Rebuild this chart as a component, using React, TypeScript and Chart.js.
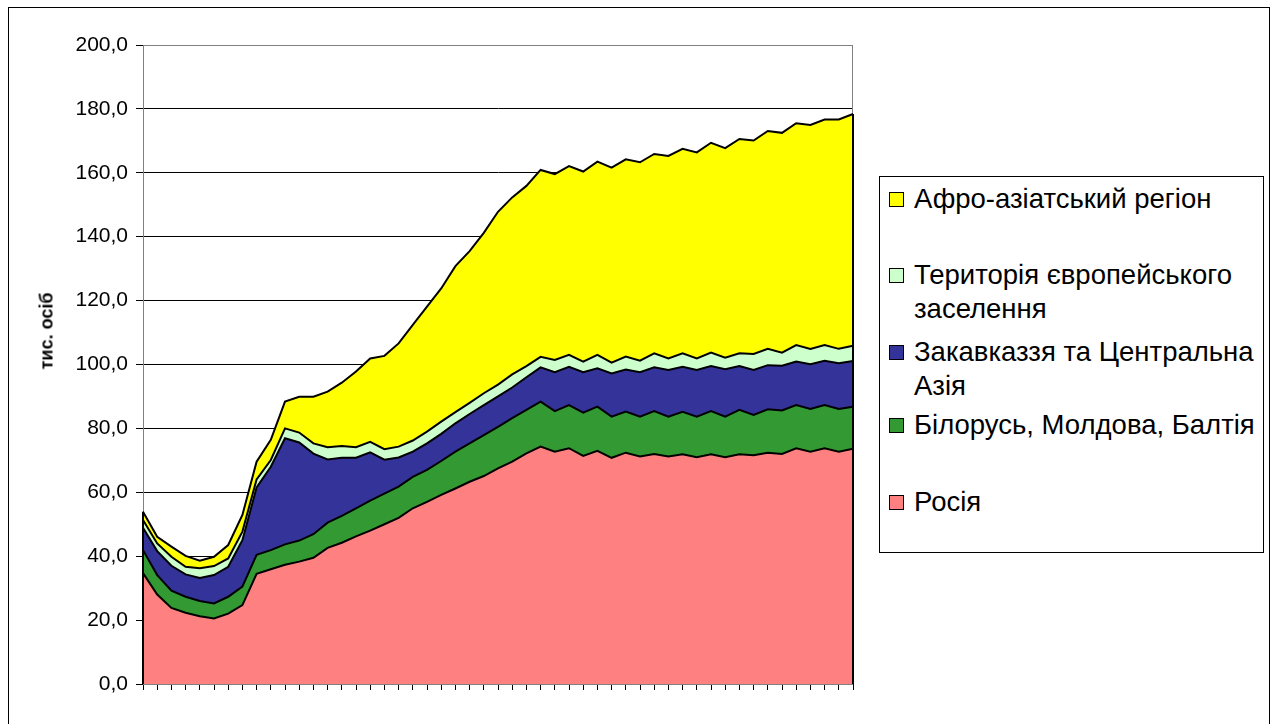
import React, { useEffect, useRef } from "react";
import { Chart, registerables } from "chart.js";

Chart.register(...registerables);

// 51 unlabeled categories (the x axis shows tick marks only)
const categories: string[] = new Array(51).fill("");

const yTickValues = [0, 20, 40, 60, 80, 100, 120, 140, 160, 180, 200];

const russia = [34.7, 28.0, 23.8, 22.3, 21.2, 20.5, 22.0, 24.7, 34.5, 35.9, 37.3, 38.3, 39.5, 42.6, 44.2, 46.2, 48.0, 50.0, 52.0, 55.0, 57.0, 59.2, 61.2, 63.3, 65.1, 67.5, 69.6, 72.2, 74.3, 72.7, 73.8, 71.4, 73.0, 70.8, 72.4, 71.2, 72.0, 71.2, 71.9, 71.0, 71.9, 71.0, 71.9, 71.6, 72.4, 72.0, 73.8, 72.7, 73.8, 72.7, 73.6];

const belarusMoldovaBaltic = [7.2, 6.1, 5.4, 5.0, 4.8, 4.7, 5.3, 5.8, 5.9, 6.0, 6.4, 6.6, 7.4, 7.9, 8.4, 8.8, 9.4, 9.6, 9.8, 9.8, 10.0, 10.6, 11.5, 12.0, 12.8, 13.0, 13.6, 13.6, 14.1, 12.7, 13.5, 13.5, 13.8, 12.9, 12.9, 12.5, 13.4, 12.5, 13.3, 12.7, 13.5, 12.7, 13.9, 12.6, 13.6, 13.6, 13.5, 13.4, 13.5, 13.4, 13.2];

const caucasusCentralAsia = [7.0, 7.5, 7.8, 7.0, 7.2, 8.9, 9.4, 14.5, 21.1, 26.1, 33.2, 30.7, 25.2, 19.8, 18.2, 15.8, 15.1, 10.6, 9.1, 7.9, 8.3, 8.5, 8.9, 9.2, 9.4, 9.5, 9.6, 10.2, 10.7, 12.2, 12.0, 12.7, 12.0, 13.5, 13.1, 13.9, 13.7, 14.6, 14.1, 14.6, 14.1, 14.8, 13.7, 14.1, 13.8, 14.0, 13.6, 14.0, 13.9, 14.3, 14.3];

const europeanSettlement = [2.4, 2.4, 2.8, 2.4, 3.0, 2.8, 2.6, 2.7, 2.5, 2.1, 3.1, 3.1, 3.2, 3.8, 3.7, 3.3, 3.3, 3.3, 3.4, 3.5, 3.7, 3.8, 3.5, 3.5, 3.7, 3.7, 4.1, 3.5, 3.3, 3.8, 3.7, 3.3, 4.2, 3.4, 4.1, 3.6, 4.4, 3.6, 4.2, 3.6, 4.2, 3.6, 4.0, 5.0, 5.1, 4.1, 5.2, 4.8, 4.9, 4.5, 4.8];

const afroAsian = [2.6, 2.1, 3.2, 3.4, 2.4, 2.9, 4.2, 5.2, 5.6, 6.3, 8.4, 11.2, 14.6, 17.4, 19.8, 23.7, 26.1, 29.2, 32.3, 36.2, 39.1, 41.7, 45.7, 47.5, 50.2, 54.1, 55.4, 56.4, 58.5, 58.2, 59.1, 59.5, 60.5, 61.0, 61.7, 62.1, 62.4, 63.4, 64.0, 64.5, 65.7, 65.6, 67.1, 66.8, 68.2, 68.8, 69.4, 70.1, 70.6, 71.8, 72.5];

const seriesNames = [
  "Росія",
  "Білорусь, Молдова, Балтія",
  "Закавказзя та Центральна Азія",
  "Територія європейського заселення",
  "Афро-азіатський регіон",
];

const yAxisTitle = "тис. осіб";

// legend text lines (top to bottom), as wrapped in the original
const legendLines: string[][] = [
  ["Афро-азіатський регіон"],
  ["Територія європейського", "заселення"],
  ["Закавказзя та Центральна", "Азія"],
  ["Білорусь, Молдова, Балтія"],
  ["Росія"],
];

// ---- styling / layout (not data) ----
const COLORS = ["#FF8080", "#339933", "#333399", "#CCFFCC", "#FFFF00"];
const LEGEND_COLORS = ["#FFFF00", "#CCFFCC", "#333399", "#339933", "#FF8080"];
const LEGEND_CENTERS = [199, 275, 352, 425, 502];
const FONT = "Arial, 'Liberation Sans', Helvetica, sans-serif";

export default function App() {
  const ref = useRef<HTMLCanvasElement | null>(null);

  useEffect(() => {
    const canvas = ref.current;
    if (!canvas) return;
    const data = [russia, belarusMoldovaBaltic, caucasusCentralAsia, europeanSettlement, afroAsian];

    const plotFrame = {
      id: "plotFrame",
      beforeDatasetsDraw(chart: any) {
        const { ctx, chartArea: a } = chart;
        ctx.save();
        ctx.strokeStyle = "#808080";
        ctx.lineWidth = 1;
        ctx.strokeRect(a.left + 0.5, a.top + 0.5, a.right - a.left - 1, a.bottom - a.top);
        ctx.restore();
      },
      afterDatasetsDraw(chart: any) {
        const { ctx, chartArea: a, scales } = chart;
        const last = categories.length - 1;
        let total = 0;
        chart.data.datasets.forEach((d: any) => (total += d.data[last]));
        const yTop = scales.y.getPixelForValue(total);
        ctx.save();
        ctx.strokeStyle = "#000";
        ctx.lineWidth = 2;
        ctx.beginPath();
        ctx.moveTo(a.right, yTop);
        ctx.lineTo(a.right, a.bottom);
        ctx.stroke();
        ctx.beginPath();
        ctx.moveTo(a.left, scales.y.getPixelForValue(data.reduce((s, arr) => s + arr[0], 0)));
        ctx.lineTo(a.left, a.bottom);
        ctx.stroke();
        ctx.restore();
      },
    };

    const chart = new Chart(canvas, {
      type: "line",
      data: {
        labels: categories,
        datasets: data.map((arr, i) => ({
          label: seriesNames[i],
          data: arr,
          backgroundColor: COLORS[i],
          borderColor: "#000",
          borderWidth: 2,
          fill: i === 0 ? "origin" : "-1",
          pointRadius: 0,
          pointHoverRadius: 0,
          tension: 0,
          borderJoinStyle: "miter" as const,
        })),
      },
      options: {
        responsive: false,
        animation: false,
        events: [],
        layout: { padding: { left: 0, top: 45, right: 424, bottom: 0 } },
        plugins: { legend: { display: false }, tooltip: { enabled: false }, title: { display: false } },
        scales: {
          x: {
            type: "category",
            offset: false,
            grid: { display: true, drawOnChartArea: false, drawTicks: true, tickLength: 6, color: "#000", tickColor: "#000", offset: false },
            border: { display: true, color: "#000", width: 1 },
            ticks: { display: false, autoSkip: false },
            afterFit(s: any) {
              s.height = 40;
            },
          },
          y: {
            stacked: true,
            min: 0,
            max: 200,
            afterBuildTicks(s: any) {
              s.ticks = yTickValues.map((v) => ({ value: v }));
            },
            ticks: {
              color: "#000",
              padding: 8,
              font: { family: FONT, size: 21 },
              callback: (v: any) => Number(v).toFixed(1).replace(".", ","),
            },
            grid: { color: "#000", lineWidth: 1, drawTicks: true, tickLength: 7, tickColor: "#000" },
            border: { display: true, color: "#000", width: 1 },
            afterFit(s: any) {
              s.width = 143;
            },
          },
        },
      },
      plugins: [plotFrame],
    } as any);

    return () => chart.destroy();
  }, []);

  return (
    <div>
      <div
        style={{
          position: "fixed",
          left: 8,
          top: 7,
          width: 1262,
          height: 740,
          border: "1px solid #000",
          boxSizing: "border-box",
          background: "#fff",
        }}
      />
      <canvas
        ref={ref}
        width={1277}
        height={724}
        style={{ position: "fixed", left: 0, top: 0, width: 1277, height: 724, display: "block" }}
      />
      <div
        style={{
          position: "fixed",
          left: 47,
          top: 331,
          transform: "translate(-50%, -50%) rotate(-90deg)",
          fontFamily: FONT,
          fontWeight: "bold",
          fontSize: 18,
          whiteSpace: "nowrap",
          color: "#000",
        }}
      >
        {yAxisTitle}
      </div>
      <div
        style={{
          position: "fixed",
          left: 879,
          top: 176,
          width: 385,
          height: 377,
          border: "1px solid #000",
          boxSizing: "border-box",
          background: "#fff",
        }}
      />
      {legendLines.map((lines, i) => (
        <React.Fragment key={i}>
          <div
            style={{
              position: "fixed",
              left: 889,
              top: LEGEND_CENTERS[i] - 7,
              width: 15,
              height: 15,
              background: LEGEND_COLORS[i],
              border: "1px solid #000",
              boxSizing: "border-box",
            }}
          />
          <div
            style={{
              position: "fixed",
              left: 914,
              top: LEGEND_CENTERS[i] - 17,
              fontFamily: FONT,
              fontSize: 27.5,
              lineHeight: "34px",
              whiteSpace: "nowrap",
              color: "#000",
            }}
          >
            {lines.map((l, j) => (
              <div key={j}>{l}</div>
            ))}
          </div>
        </React.Fragment>
      ))}
    </div>
  );
}
